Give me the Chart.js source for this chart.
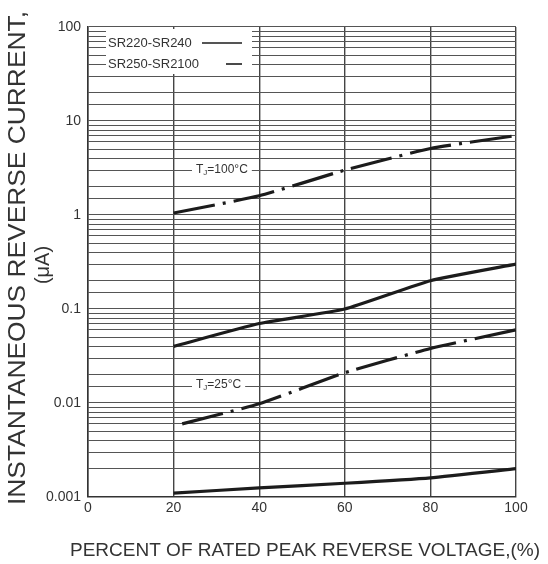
<!DOCTYPE html>
<html>
<head>
<meta charset="utf-8">
<script src="https://cdn.jsdelivr.net/npm/chart.js@4/dist/chart.umd.min.js"></script>
<style>
  html, body { margin: 0; padding: 0; background: #fff; }
  #wrap { width: 548px; height: 564px; }
</style>
</head>
<body>
<div id="wrap"><canvas id="c" width="548" height="564" style="width:548px;height:564px"></canvas></div>
<script>
// ---- data ----
const percentX = [20, 40, 60, 80, 100];
const sr250_100C = [1.05, 1.6, 3.0, 5.1, 7.0];
const sr220_100C = [0.04, 0.07, 0.1, 0.2, 0.3];
const sr250_25C_x = [22, 40, 60, 80, 100];
const sr250_25C = [0.006, 0.0098, 0.021, 0.038, 0.06];
const sr220_25C = [0.0011, 0.00125, 0.0014, 0.0016, 0.002];
const yTickLabels = ['0.001', '0.01', '0.1', '1', '10', '100'];
const xTicks = [0, 20, 40, 60, 80, 100];
const legendLabels = ['SR220-SR240', 'SR250-SR2100'];
const curveLabels = ['100°C', '25°C'];
const yTitle = ['INSTANTANEOUS REVERSE CURRENT,', '(μA)'];
const xTitle = 'PERCENT OF RATED PEAK REVERSE VOLTAGE,(%)';

const NARROW = "'Liberation Sans Narrow', 'Liberation Sans', Arial, sans-serif";
const SANS = "'Liberation Sans', Arial, sans-serif";
const TXT = '#333';
const LINE = '#1c1c1c';
const DASH = [42, 8, 3, 8];

function pts(xs, ys) { return xs.map((x, i) => ({ x: x, y: ys[i] })); }

function fitText(ctx, text, cx, cy, targetW) {
  const w = ctx.measureText(text).width;
  ctx.save();
  ctx.translate(cx, cy);
  ctx.scale(targetW / w, 1);
  ctx.fillText(text, 0, 0);
  ctx.restore();
}

const annot = {
  id: 'annot',
  afterDatasetsDraw(chart) {
    const ctx = chart.ctx;
    const ys = chart.scales.y;
    ctx.save();
    // legend box
    ctx.fillStyle = '#fff';
    ctx.fillRect(106, 29, 146, 45);
    ctx.fillStyle = TXT;
    ctx.font = '13px ' + NARROW;
    ctx.textBaseline = 'middle';
    ctx.textAlign = 'left';
    ctx.fillText(legendLabels[0], 108, 43);
    ctx.fillText(legendLabels[1], 108, 64);
    ctx.strokeStyle = LINE;
    ctx.lineWidth = 1.6;
    ctx.beginPath(); ctx.moveTo(202, 43); ctx.lineTo(242, 43); ctx.stroke();
    ctx.beginPath(); ctx.moveTo(226, 64); ctx.lineTo(242, 64); ctx.stroke();

    // curve labels
    function tj(x, y, t) {
      ctx.font = '12px ' + NARROW;
      const w = ctx.measureText('T').width;
      ctx.font = '8px ' + NARROW;
      const wj = ctx.measureText('J').width;
      ctx.font = '12px ' + NARROW;
      const wt = ctx.measureText('=' + t).width;
      ctx.fillStyle = '#fff';
      ctx.fillRect(x - 4, y - 7, w + wj + wt + 8, 14);
      ctx.fillStyle = TXT;
      ctx.textAlign = 'left';
      ctx.fillText('T', x, y);
      ctx.font = '8px ' + NARROW;
      ctx.fillText('J', x + w, y + 3);
      ctx.font = '12px ' + NARROW;
      ctx.fillText('=' + t, x + w + wj, y);
    }
    tj(196, ys.getPixelForValue(3), curveLabels[0]);
    tj(196, 385, curveLabels[1]);

    // axis titles
    ctx.fillStyle = TXT;
    ctx.textAlign = 'center';
    ctx.textBaseline = 'middle';
    ctx.font = '19px ' + SANS;
    fitText(ctx, xTitle, 305, 551, 470);
    ctx.save();
    ctx.translate(19, 258);
    ctx.rotate(-Math.PI / 2);
    ctx.font = '23px ' + SANS;
    fitText(ctx, yTitle[0], 0, 0, 494);
    ctx.restore();
    ctx.save();
    ctx.translate(43, 265);
    ctx.rotate(-Math.PI / 2);
    ctx.font = '20px ' + SANS;
    ctx.fillText(yTitle[1], 0, 0);
    ctx.restore();
    ctx.restore();
  }
};

function isDecade(v) {
  const l = Math.log10(v);
  return Math.abs(l - Math.round(l)) < 1e-9;
}

new Chart(document.getElementById('c'), {
  type: 'line',
  data: {
    datasets: [
      { data: pts(percentX, sr250_100C), borderDash: DASH },
      { data: pts(percentX, sr220_100C) },
      { data: pts(sr250_25C_x, sr250_25C), borderDash: DASH },
      { data: pts(percentX, sr220_25C) }
    ].map(d => Object.assign({
      borderColor: LINE, borderWidth: 3.2, pointRadius: 0, tension: 0.15, fill: false
    }, d))
  },
  options: {
    responsive: false,
    animation: false,
    devicePixelRatio: 1,
    layout: { padding: { top: 27, right: 32, left: 0, bottom: 0 } },
    plugins: { legend: { display: false }, tooltip: { enabled: false } },
    scales: {
      x: {
        type: 'linear', min: 0, max: 100,
        afterBuildTicks(s) { s.ticks = xTicks.map(v => ({ value: v })); },
        ticks: { color: TXT, font: { size: 14, family: NARROW }, padding: 3, maxRotation: 0 },
        grid: { color: '#444', lineWidth: 1.4, drawTicks: false },
        border: { color: '#333', width: 1.5 },
        afterFit(s) { s.height = 67; }
      },
      y: {
        type: 'logarithmic', min: 0.001, max: 100,
        ticks: {
          color: TXT, font: { size: 14, family: NARROW }, padding: 7, autoSkip: false,
          callback(v) {
            if (!isDecade(v)) return '';
            return yTickLabels[Math.round(Math.log10(v)) + 3];
          }
        },
        grid: { color: '#555', lineWidth: 1.1, drawTicks: false },
        border: { color: '#333', width: 1.5 },
        afterFit(s) { s.width = 88; }
      }
    }
  },
  plugins: [annot]
});
</script>
</body>
</html>
